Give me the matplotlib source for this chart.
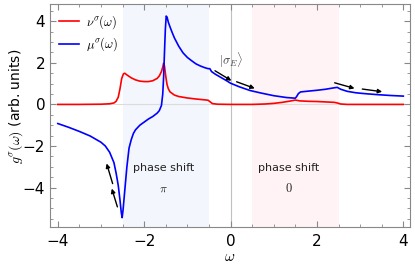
import matplotlib
matplotlib.use("Agg")
import matplotlib.pyplot as plt
from matplotlib.ticker import MultipleLocator

plt.rcParams['mathtext.fontset'] = 'cm'
plt.rcParams['font.family'] = ['DejaVu Sans']

# ---- data ----
red_w = [-4.0, -3.5, -3.0, -2.8, -2.7, -2.65, -2.6, -2.56, -2.52, -2.48, -2.45, -2.4, -2.3,
         -2.2, -2.1, -2.0, -1.9, -1.8, -1.7, -1.65, -1.6, -1.57, -1.55, -1.53, -1.5, -1.47,
         -1.44, -1.4, -1.3, -1.2, -1.0, -0.8, -0.6, -0.52, -0.47, -0.42, -0.3, 0.0, 0.5, 0.8,
         1.0, 1.2, 1.4, 1.5, 1.6, 1.8, 2.0, 2.2, 2.4, 2.47, 2.55, 2.7, 3.0, 3.5, 4.0]
red_g = [0.0, 0.0, 0.01, 0.03, 0.07, 0.15, 0.35, 0.75, 1.25, 1.47, 1.5, 1.42, 1.28,
         1.18, 1.12, 1.1, 1.1, 1.14, 1.25, 1.37, 1.58, 1.8, 1.98, 1.85, 1.35, 0.95,
         0.75, 0.6, 0.45, 0.38, 0.31, 0.26, 0.22, 0.2, 0.12, 0.04, 0.01, 0.0, 0.0, 0.02,
         0.05, 0.1, 0.17, 0.21, 0.17, 0.15, 0.14, 0.12, 0.1, 0.07, 0.02, 0.0, 0.0, 0.0, 0.0]

blue_w = [-4.0, -3.75, -3.5, -3.25, -3.0, -2.9, -2.8, -2.7, -2.65, -2.6, -2.56, -2.53, -2.51,
          -2.49, -2.46, -2.43, -2.4, -2.35, -2.3, -2.25, -2.2, -2.1, -2.0, -1.9, -1.8, -1.7,
          -1.65, -1.6, -1.57, -1.55, -1.53, -1.51, -1.49, -1.47, -1.44, -1.4, -1.35, -1.3,
          -1.2, -1.1, -1.0, -0.9, -0.8, -0.7, -0.6, -0.52, -0.48, -0.44, -0.35, -0.25, -0.1,
          0.0, 0.2, 0.45, 0.7, 1.0, 1.3, 1.5, 1.53, 1.57, 1.62, 1.8, 2.0, 2.2, 2.4, 2.47,
          2.55, 2.7, 2.9, 3.1, 3.4, 3.7, 4.0]
blue_g = [-0.92, -1.1, -1.3, -1.52, -1.82, -2.0, -2.3, -2.8, -3.3, -3.9, -4.6, -5.2, -5.45,
          -5.1, -4.4, -3.7, -3.0, -2.1, -1.7, -1.4, -1.22, -1.0, -0.85, -0.7, -0.58, -0.42,
          -0.3, -0.05, 0.5, 1.3, 2.5, 3.6, 4.25, 4.2, 3.95, 3.72, 3.45, 3.2,
          2.8, 2.48, 2.26, 2.1, 1.95, 1.85, 1.77, 1.72, 1.72, 1.58, 1.45, 1.33, 1.15,
          1.02, 0.85, 0.67, 0.55, 0.42, 0.33, 0.3, 0.38, 0.52, 0.6, 0.64, 0.68, 0.73, 0.8, 0.82,
          0.73, 0.63, 0.56, 0.52, 0.47, 0.43, 0.4]

band_pi = (-2.5, -0.5)
band_0 = (0.5, 2.5)

arrows = [((-2.62, -4.93), (-2.75, -4.05)),
          ((-2.73, -3.81), (-2.87, -2.84)),
          ((-0.36, 1.62), (0.02, 1.14)),
          ((0.14, 1.09), (0.56, 0.77)),
          ((2.41, 1.04), (2.87, 0.77)),
          ((3.05, 0.74), (3.51, 0.61))]

# ---- figure ----
fig = plt.figure(figsize=(4.15, 2.69), dpi=100)
ax = fig.add_axes([0.1205, 0.156, 0.867, 0.829])

ax.axvspan(*band_pi, color='#f3f6fc', lw=0, zorder=0)
ax.axvspan(*band_0, color='#fff3f5', lw=0, zorder=0)
ax.axvline(0, color='#c0c0c0', lw=0.8, zorder=1)
ax.axhline(0, color='#dcdcdc', lw=0.8, zorder=1)

ax.plot(red_w, red_g, color='#ff0000', lw=1.2, label=r'$\nu^\sigma(\omega)$', zorder=3)
ax.plot(blue_w, blue_g, color='#0000ff', lw=1.2, label=r'$\mu^\sigma(\omega)$', zorder=3)

for (t, h) in arrows:
    ax.annotate('', xy=h, xytext=t,
                arrowprops=dict(arrowstyle='-|>', color='black', lw=1.0,
                                mutation_scale=6, shrinkA=0, shrinkB=0), zorder=4)

ax.text(0.02, 2.13, r'$|\sigma_E\rangle$', fontsize=9, color='#444444',
        ha='center', va='center')
ax.text(-1.55, -3.08, 'phase shift', fontsize=8, ha='center', va='center', color='#222222')
ax.text(-1.55, -4.05, r'$\pi$', fontsize=8.5, ha='center', va='center', color='#222222')
ax.text(1.34, -3.08, 'phase shift', fontsize=8, ha='center', va='center', color='#222222')
ax.text(1.34, -4.05, r'$\mathrm{0}$', fontsize=9, ha='center', va='center', color='#222222')

ax.set_xlim(-4.18, 4.15)
ax.set_ylim(-5.9, 4.83)
ax.xaxis.set_major_locator(MultipleLocator(2))
ax.xaxis.set_minor_locator(MultipleLocator(0.5))
ax.yaxis.set_major_locator(MultipleLocator(2))
ax.yaxis.set_minor_locator(MultipleLocator(0.5))
ax.tick_params(which='both', direction='in', top=True, right=True, color='#888888',
               labelsize=11)
ax.tick_params(which='major', length=4, width=0.8)
ax.tick_params(which='minor', length=2, width=0.6)
ax.tick_params(axis='x', pad=5)
for s in ax.spines.values():
    s.set_color('#888888')
    s.set_linewidth(0.8)

ax.set_xlabel(r'$\omega$', fontsize=11, labelpad=0)
ax.set_ylabel(r'$g^\sigma(\omega)$ (arb. units)', fontsize=10)
ax.yaxis.set_label_coords(-0.07, 0.54)

leg = ax.legend(loc='upper left', frameon=False, fontsize=9, handlelength=1.6,
                handletextpad=0.6, borderaxespad=0.3, labelspacing=0.4)

fig.savefig('out.png', dpi=100)
